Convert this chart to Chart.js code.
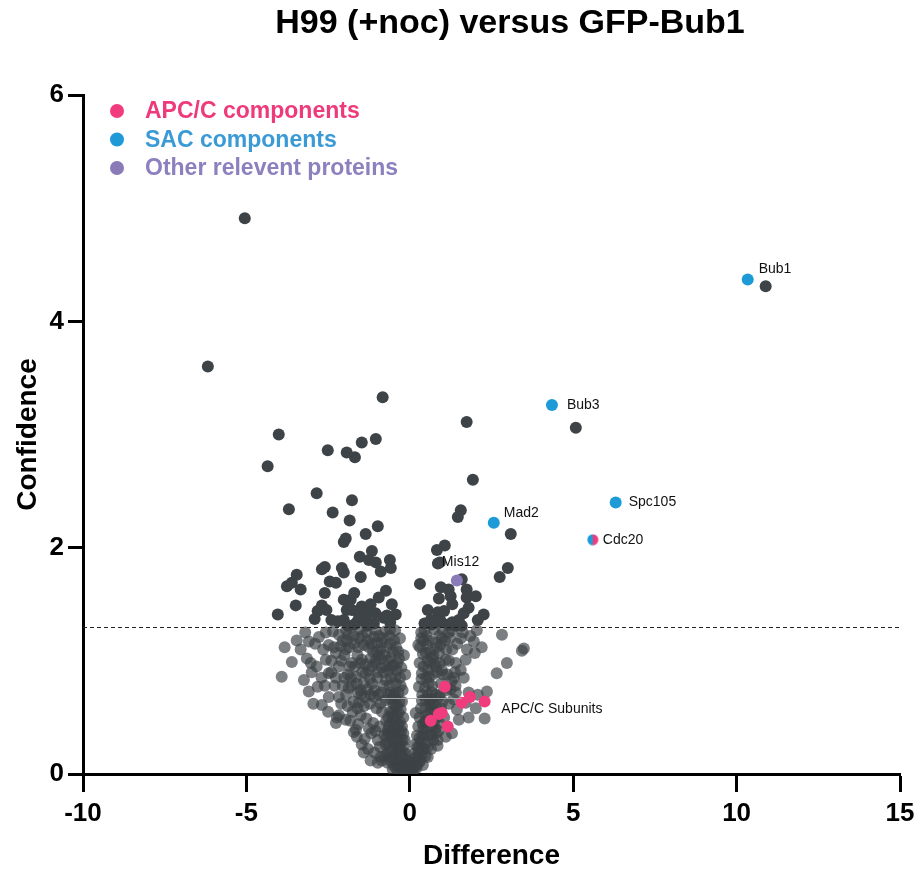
<!DOCTYPE html>
<html lang="en">
<head>
  <meta charset="UTF-8">
  <title>H99 (+noc) versus GFP-Bub1</title>
  <style>
body {
  margin: 0;
  padding: 0;
  background: #ffffff;
}
#volcano {
  display: block;
}
  </style>
</head>
<body>

  <canvas id="volcano" width="917" height="873"></canvas>

  <script src="https://cdn.jsdelivr.net/npm/chart.js"></script>

  <script>
    // Not significant hits (below the p = 0.05 line), drawn semi-transparent
    const nsDiff = [
      -3.92, -3.83, -3.61, -3.46, -3.34, -3.09, -3.03, -3.00, -3.24, -3.09, -2.69, -2.82, -2.57, -2.78, -2.57,
      -2.48, -2.48, -2.26, -2.17, -2.26, -2.48, -2.23, -1.96, -2.17, -1.87, -1.96, -1.77, -1.65, -1.87, -1.50,
      -1.56, -1.32, -1.25, -1.10, -1.01, -0.86, -1.04, -0.86, -0.58, -0.55, -0.73, -0.43, -0.58, -0.28, -0.24,
      -1.47, -1.35, -2.17, -1.71, -1.47, -0.89, -1.41, -0.86, -2.26, -2.17, -1.65,
      -2.05, -1.70, -1.55, -1.40, -1.20, -0.95, -0.70, -0.62, -0.48, -0.35, -0.40, -0.30, -0.65, -0.80, -1.00,
      -1.15, -1.30, -1.45, -1.60, -1.85, -2.00, -2.10, -0.95, -0.75, -0.50, -1.10, -0.62, -0.35, -0.20, -0.45,
      -0.75, -1.05, -1.55, -1.95, -2.35, -2.65, -2.85, -2.70, -3.15,
      -1.90, -1.75, -1.60, -1.40, -1.22, -1.02, -0.85, -1.82, -1.58, -1.33, -1.12, -0.92, -0.72, -1.62, -1.38,
      -1.18, -0.98, -0.78, -1.28, -1.08, -0.92, -0.70, -1.20, -0.98, -0.66, -0.60, -1.50, -1.25, -1.05,
      -0.52, -0.48, -0.45, -0.42, -0.38, -0.34, -0.30, -0.26, -0.22, -0.18, -0.14, -0.10, -0.05, -0.60, -0.56,
      -0.52, -0.46, -0.40, -0.33, -0.27, -0.20, -0.62, -0.55, -0.48, -0.40, -0.32, -0.60, -0.50, -0.42, -0.15,
      -0.22, -0.28, -0.32, -0.36, -0.40, -0.44, -0.70, -0.75, -0.68,
      -0.58, -0.50, -0.44, -0.38, -0.34, -0.30, -0.26, -0.22, -0.18, -0.12, -0.08, -0.04, -0.66, -0.62, -0.56,
      -0.46, -0.36, -0.28, -0.24, -0.20, -0.16, -0.50, -0.44, -0.54, -0.64, -0.70, -0.76, -0.68, -0.52, -0.36,
      -0.26, -0.16,
      -2.40, -2.30, -2.10, -1.95, -1.80, -1.72, -1.60, -1.42, -1.25, -1.18, -1.00, -0.88, -0.80, -0.68, -0.52,
      -0.44, -0.38, -0.26, -0.22, -0.32, -0.90, -1.20, -1.38, -1.72, -2.05, -2.40, -2.60, -2.90, -3.20, -2.95,
      -2.50, -1.85, -1.45, -0.95, -0.60, -0.30, -0.18, -0.14,
      -2.00, -1.90, -1.78, -1.68, -1.58, -1.48, -1.36, -1.28, -1.15, -1.08, -0.98, -0.90, -0.82, -0.72, -0.65,
      -0.58, -0.50, -0.42, -0.33, -0.28, -0.46, -0.78, -1.12, -1.52, -1.92, -2.12, -2.32, -1.62, -1.22, -0.88,
      -1.05, -0.60,
      0.05, 0.10, 0.14, 0.18, 0.22, 0.26, 0.30, 0.34, 0.38, 0.42, 0.46, 0.50, 0.20, 0.28, 0.36,
      0.44, 0.52, 0.60, 0.66, 0.40, 0.55, 0.65, 0.72, 0.12, 0.16, 0.22, 0.26, 0.30, 0.34, 0.78,
      0.85, 0.90, 0.75, 0.62, 0.55, 0.68, 0.50, 0.42, 0.55, 0.70, 0.95, 1.05, 1.20, 1.25, 1.15,
      1.30, 1.45, 1.62, 1.75, 1.85, 2.05, 0.35, 0.45, 0.75, 1.00, 1.30, 0.85,
      0.02, 0.08, 0.12, 0.16, 0.22, 0.24, 0.30, 0.32, 0.38, 0.40, 0.44, 0.48, 0.48, 0.52, 0.56,
      0.58, 0.60, 0.64, 0.68, 0.70, 0.74, 0.80, 0.82, 0.88, 0.92, 1.00, 0.96, 0.84, 0.76, 0.62,
      0.52, 0.40, 0.30, 0.26, 0.94, 1.08, 1.20, 1.12, 1.34, 1.38, 0.46, 0.36,
      0.32, 0.42, 0.55, 0.62, 0.72, 0.82, 0.92, 1.02, 1.12, 1.22, 0.38, 0.48, 0.66, 0.80, 1.28,
      1.40, 0.58, 0.35, 0.52, 0.90,
      2.82, 3.49, 3.43, 2.97, 2.66, 2.36, 2.08, 2.29, 2.02, 1.80, 2.20, 1.99, 1.71, 1.96, 1.56,
      1.19, 0.98, 0.80, 0.58, 0.49, 0.67, 0.89, 1.10, 1.41, 1.56, 1.35, 1.65, 1.41, 1.71, 1.44,
      1.50, 1.29, 1.10, 0.80, 0.37, 0.28, 0.37, 0.18, 0.49, 0.67, 0.58, 0.80, 0.98, 1.10, 0.89,
      0.67, 1.80
    ];
    const nsConf = [
      0.86, 1.12, 0.99, 1.18, 1.10, 1.17, 0.98, 0.90, 0.83, 0.73, 0.61, 0.77, 1.01, 1.21, 1.25,
      1.14, 0.89, 1.07, 0.95, 0.85, 0.68, 0.50, 0.48, 1.23, 1.23, 1.10, 0.98, 0.86, 0.76, 0.74,
      0.63, 1.25, 1.12, 1.21, 1.08, 1.16, 0.98, 0.94, 1.03, 0.95, 0.83, 0.80, 0.72, 0.57, 0.64,
      1.01, 0.89, 0.68, 0.37, 0.26, 0.15, 0.19, 0.12, 0.45, 0.52, 0.39,
      1.18, 1.15, 1.20, 1.14, 1.02, 1.05, 1.12, 1.22, 1.18, 1.08, 0.92, 0.85, 0.92, 0.78, 0.85,
      0.80, 0.75, 0.90, 1.05, 0.95, 0.85, 1.00, 0.70, 0.65, 0.62, 0.68, 0.78, 0.72, 0.50, 1.27,
      1.26, 1.27, 1.28, 1.27, 1.26, 1.10, 0.95, 0.85, 1.02,
      0.60, 0.55, 0.58, 0.60, 0.62, 0.58, 0.55, 0.47, 0.44, 0.49, 0.45, 0.42, 0.47, 0.33, 0.31,
      0.36, 0.30, 0.34, 0.22, 0.19, 0.24, 0.27, 0.12, 0.10, 0.36, 0.55, 0.52, 0.40, 0.38,
      0.55, 0.48, 0.42, 0.36, 0.31, 0.26, 0.21, 0.17, 0.13, 0.10, 0.07, 0.04, 0.02, 0.45, 0.38,
      0.30, 0.24, 0.18, 0.13, 0.09, 0.06, 0.28, 0.20, 0.14, 0.10, 0.07, 0.12, 0.08, 0.05, 0.14,
      0.20, 0.28, 0.36, 0.44, 0.52, 0.60, 0.18, 0.26, 0.38,
      0.66, 0.70, 0.66, 0.60, 0.54, 0.46, 0.38, 0.30, 0.24, 0.18, 0.12, 0.08, 0.50, 0.20, 0.14,
      0.32, 0.22, 0.15, 0.42, 0.36, 0.30, 0.40, 0.28, 0.52, 0.42, 0.34, 0.16, 0.10, 0.04, 0.04,
      0.03, 0.02,
      1.00, 0.78, 0.62, 0.70, 0.85, 1.22, 0.72, 0.80, 0.92, 1.15, 1.16, 1.02, 0.90, 1.00, 1.08,
      0.86, 0.98, 0.94, 0.74, 0.64, 0.62, 0.70, 0.68, 0.64, 0.78, 0.90, 0.78, 1.15, 1.25, 0.62,
      0.55, 1.12, 1.22, 1.22, 1.28, 1.20, 1.05, 0.88,
      1.05, 0.88, 0.78, 0.95, 1.12, 0.70, 0.97, 1.18, 0.95, 0.74, 0.90, 1.10, 1.20, 0.95, 0.70,
      0.85, 0.96, 1.12, 1.02, 0.78, 0.70, 1.05, 1.08, 0.98, 1.18, 1.13, 1.12, 0.80, 0.84, 0.72,
      1.00, 1.15,
      0.02, 0.05, 0.08, 0.11, 0.15, 0.19, 0.24, 0.29, 0.34, 0.40, 0.46, 0.52, 0.05, 0.10, 0.16,
      0.22, 0.28, 0.34, 0.42, 0.08, 0.15, 0.22, 0.30, 0.18, 0.26, 0.34, 0.42, 0.50, 0.58, 0.40,
      0.30, 0.45, 0.55, 0.62, 0.70, 0.78, 0.85, 0.95, 1.00, 0.88, 0.58, 0.50, 0.62, 0.75, 0.88,
      1.10, 1.15, 1.25, 1.10, 1.22, 1.27, 1.20, 1.27, 1.28, 1.28, 1.27, 0.25,
      0.06, 0.10, 0.04, 0.14, 0.08, 0.24, 0.32, 0.12, 0.22, 0.44, 0.34, 0.16, 0.58, 0.40, 0.24,
      0.48, 0.66, 0.56, 0.34, 0.62, 0.46, 0.60, 0.50, 0.38, 0.70, 0.64, 0.80, 0.90, 0.98, 1.08,
      1.14, 1.06, 0.98, 1.14, 1.14, 1.18, 1.00, 0.74, 0.66, 0.90, 0.76, 0.84,
      1.12, 1.18, 0.92, 0.98, 1.05, 1.12, 0.98, 0.88, 1.10, 1.20, 0.70, 0.66, 0.66, 0.70, 0.82,
      0.78, 0.80, 1.25, 1.22, 1.22,
      1.23, 1.11, 1.09, 0.98, 0.89, 0.73, 0.70, 0.49, 0.58, 0.50, 1.12, 1.07, 1.01, 1.17, 1.20,
      1.25, 1.20, 1.16, 1.18, 1.07, 1.03, 1.07, 1.01, 0.98, 0.92, 0.85, 0.85, 0.72, 0.63, 0.57,
      0.48, 0.36, 0.33, 0.36, 0.89, 0.77, 0.65, 0.54, 0.48, 0.59, 0.86, 0.95, 0.92, 0.77, 0.68,
      0.72, 0.72
    ];

    // Significant hits (above the line), solid dark grey
    const sigDiff = [
      -5.05, -6.18, -0.83, -4.01, -4.35, -2.51, -1.93, -1.68, -1.47, -1.04, 1.74, 1.93, -2.85, -1.77, -3.70,
      -2.36, -1.84, -0.98, -1.35, -2.02, -1.96, 1.56, 1.47, 3.09, 5.08, 10.89, -1.16, -1.53, -1.25, -1.04,
      -0.61, -0.58, -0.89, -2.60, -2.69, -2.08, -2.02, -3.46, -3.76, -3.34, -3.61, -2.45, -2.26, -1.50, -0.73,
      -2.60, -3.49, -4.04, -2.82, -2.91, -2.69, -2.02, -1.81, -1.93, -1.47, -1.25, -1.35, -0.95, -0.43, 0.31,
      0.83, 1.07, 0.92, 0.86, 1.59, 0.95, 1.19, 1.74, 2.02, 1.74, 0.89, 1.25, 1.80, 0.86, 2.26,
      2.08, 0.64, 0.67, 1.19, 1.41, 1.59, 3.00, 2.75, -2.02, -1.47, -1.77,
      -1.60, -1.10, -0.80, -1.70, -2.20, -0.60, -1.90, -1.30, 0.45, 0.95, 1.30,
      -1.55, -1.05, -0.70, -2.40, -2.55, -1.20, -1.70, -0.55, 0.55, 0.80, 1.05, 1.50, 1.65, 1.30
    ];
    const sigConf = [
      4.91, 3.60, 3.33, 3.00, 2.72, 2.86, 2.84, 2.80, 2.93, 2.96, 3.11, 2.60, 2.48, 2.42, 2.34,
      2.31, 2.24, 2.19, 2.12, 2.05, 2.08, 2.33, 2.27, 2.12, 3.06, 4.31, 1.97, 1.92, 1.89, 1.87,
      1.89, 1.82, 1.79, 1.83, 1.81, 1.82, 1.78, 1.76, 1.66, 1.63, 1.69, 1.70, 1.69, 1.74, 1.62,
      1.60, 1.49, 1.41, 1.44, 1.37, 1.49, 1.54, 1.54, 1.45, 1.48, 1.45, 1.39, 1.56, 1.41, 1.68,
      1.98, 2.02, 1.87, 1.86, 1.72, 1.65, 1.63, 1.63, 1.57, 1.56, 1.55, 1.57, 1.47, 1.43, 1.41,
      1.36, 1.36, 1.32, 1.32, 1.31, 1.31, 1.82, 1.74, 1.36, 1.42, 1.45,
      1.35, 1.33, 1.38, 1.32, 1.35, 1.34, 1.31, 1.31, 1.33, 1.35, 1.34,
      1.40, 1.42, 1.40, 1.36, 1.45, 1.50, 1.60, 1.50, 1.45, 1.35, 1.44, 1.36, 1.42, 1.50
    ];

    // APC/C components
    const apcDiff = [1.07, 1.84, 1.59, 2.29, 0.98, 0.89, 0.64, 1.16];
    const apcConf = [0.77, 0.68, 0.63, 0.64, 0.54, 0.53, 0.47, 0.42];

    // SAC components
    const sacNames = ['Bub1', 'Bub3', 'Spc105', 'Mad2'];
    const sacDiff = [10.34, 4.35, 6.30, 2.57];
    const sacConf = [4.37, 3.26, 2.40, 2.22];

    // Cdc20 belongs to both groups
    const cdc20Diff = [5.60];
    const cdc20Conf = [2.07];

    // Other relevant proteins
    const otherNames = ['Mis12'];
    const otherDiff = [1.44];
    const otherConf = [1.71];

    const threshold = 1.3;

    const pink = '#f03c7c';
    const blue = '#1e9bd7';
    const purple = '#8a7ab8';
    const dark = '#3d4346';
    const dotR = 6;

    const toPoints = (xs, ys) => xs.map((x, i) => ({ x: x, y: ys[i] }));

    // half blue / half pink marker for Cdc20
    const halfDot = document.createElement('canvas');
    halfDot.width = 12;
    halfDot.height = 12;
    const hctx = halfDot.getContext('2d');
    hctx.fillStyle = blue;
    hctx.beginPath();
    hctx.arc(6, 6, 5.5, Math.PI / 2, Math.PI * 1.5);
    hctx.fill();
    hctx.fillStyle = pink;
    hctx.beginPath();
    hctx.arc(6, 6, 5.5, -Math.PI / 2, Math.PI / 2);
    hctx.fill();

    const boldFont = '"Liberation Sans", Arial, Helvetica, sans-serif';

    const overlay = {
      id: 'overlay',
      afterDatasetsDraw(chart) {
        const ctx = chart.ctx;
        const xs = chart.scales.x;
        const ys = chart.scales.y;
        const area = chart.chartArea;
        ctx.save();

        // significance line
        const ty = Math.round(ys.getPixelForValue(threshold)) + 0.5;
        ctx.strokeStyle = '#222';
        ctx.lineWidth = 1;
        ctx.setLineDash([4, 3]);
        ctx.beginPath();
        ctx.moveTo(area.left, ty);
        ctx.lineTo(area.right, ty);
        ctx.stroke();
        ctx.setLineDash([]);

        // leader line for the APC/C label
        ctx.strokeStyle = 'rgba(175,175,175,0.9)';
        ctx.beginPath();
        ctx.moveTo(xs.getPixelForValue(-0.86), Math.round(ys.getPixelForValue(0.67)) + 0.5);
        ctx.lineTo(xs.getPixelForValue(1.59), Math.round(ys.getPixelForValue(0.67)) + 0.5);
        ctx.stroke();

        // point labels
        ctx.fillStyle = '#111';
        ctx.font = '14px ' + boldFont;
        ctx.textBaseline = 'middle';
        ctx.textAlign = 'left';
        const offs = [[11, -10], [15, 0], [13, 0], [10, -10]];
        sacNames.forEach((name, i) => {
          ctx.fillText(name, xs.getPixelForValue(sacDiff[i]) + offs[i][0], ys.getPixelForValue(sacConf[i]) + offs[i][1]);
        });
        ctx.fillText('Cdc20', xs.getPixelForValue(cdc20Diff[0]) + 10, ys.getPixelForValue(cdc20Conf[0]));
        ctx.fillText(otherNames[0], xs.getPixelForValue(otherDiff[0]) - 15, ys.getPixelForValue(otherConf[0]) - 18);
        ctx.fillText('APC/C Subunits', xs.getPixelForValue(2.8), ys.getPixelForValue(0.57));
        ctx.restore();
      },
      afterDraw(chart) {
        const ctx = chart.ctx;
        ctx.save();
        // title
        ctx.fillStyle = '#000';
        ctx.font = 'bold 34px ' + boldFont;
        ctx.textAlign = 'center';
        ctx.textBaseline = 'middle';
        ctx.fillText('H99 (+noc) versus GFP-Bub1', 510, 24);

        // legend
        const items = [
          ['APC/C components', pink, '#ee3a7a'],
          ['SAC components', blue, '#3a9ad6'],
          ['Other relevent proteins', purple, '#8c80be']
        ];
        ctx.font = 'bold 23px ' + boldFont;
        ctx.textAlign = 'left';
        items.forEach((it, i) => {
          const y = 111 + i * 28.5;
          ctx.fillStyle = it[1];
          ctx.beginPath();
          ctx.arc(117, y, 7, 0, Math.PI * 2);
          ctx.fill();
          ctx.fillStyle = it[2];
          ctx.fillText(it[0], 145, y + 1);
        });
        ctx.restore();
      }
    };

    const axisFont = { family: boldFont, size: 26, weight: 'bold' };
    const titleFont = { family: boldFont, size: 28, weight: 'bold' };

    new Chart(document.getElementById('volcano'), {
      type: 'scatter',
      data: {
        datasets: [
          {
            label: 'Cdc20',
            data: toPoints(cdc20Diff, cdc20Conf),
            pointStyle: halfDot,
            order: 0
          },
          {
            label: 'SAC components',
            data: toPoints(sacDiff, sacConf),
            backgroundColor: blue,
            order: 0
          },
          {
            label: 'Other relevent proteins',
            data: toPoints(otherDiff, otherConf),
            backgroundColor: purple,
            order: 0
          },
          {
            label: 'APC/C components',
            data: toPoints(apcDiff, apcConf),
            backgroundColor: pink,
            order: 1
          },
          {
            label: 'Significant',
            data: toPoints(sigDiff, sigConf),
            backgroundColor: dark,
            order: 2
          },
          {
            label: 'Not significant',
            data: toPoints(nsDiff, nsConf),
            backgroundColor: 'rgba(61,66,70,0.68)',
            order: 3
          }
        ]
      },
      options: {
        responsive: false,
        animation: false,
        devicePixelRatio: 1,
        layout: { padding: { top: 95, right: 17, left: 0, bottom: 0 } },
        elements: {
          point: { radius: dotR, hoverRadius: dotR, borderWidth: 0 }
        },
        plugins: {
          legend: { display: false },
          tooltip: { enabled: false },
          title: { display: false }
        },
        scales: {
          x: {
            type: 'linear',
            min: -10,
            max: 15,
            afterFit: (scale) => {
              scale.height = 99;
              scale.paddingLeft = 0;
              scale.paddingRight = 0;
            },
            ticks: { stepSize: 5, color: '#000', font: axisFont, padding: 6 },
            grid: { drawOnChartArea: false, drawTicks: true, tickLength: 18, tickWidth: 3, tickColor: '#000' },
            border: { display: true, width: 3, color: '#000' },
            title: { display: true, text: 'Difference', color: '#000', font: titleFont, padding: { top: 0, bottom: 0 } }
          },
          y: {
            type: 'linear',
            min: 0,
            max: 6,
            afterFit: (scale) => { scale.width = 83; },
            ticks: { stepSize: 2, color: '#000', font: axisFont, padding: 4 },
            grid: { drawOnChartArea: false, drawTicks: true, tickLength: 15, tickWidth: 3, tickColor: '#000' },
            border: { display: true, width: 3, color: '#000' },
            title: { display: true, text: 'Confidence', color: '#000', font: titleFont, padding: { top: 11, bottom: 0 } }
          }
        }
      },
      plugins: [overlay]
    });
  </script>

</body>
</html>
